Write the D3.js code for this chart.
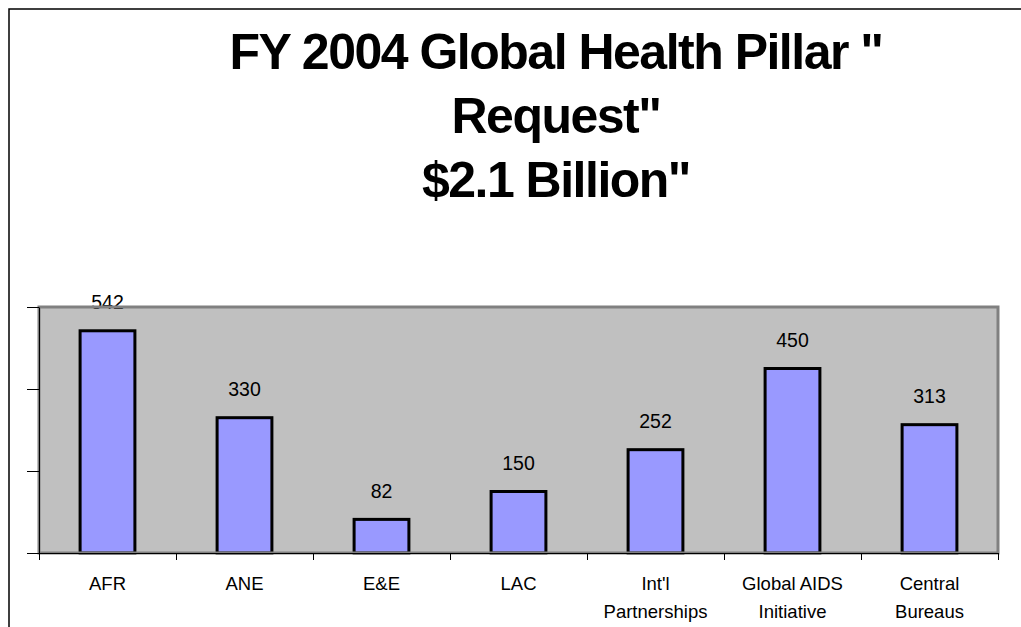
<!DOCTYPE html>
<html>
<head>
<meta charset="utf-8">
<script src="https://cdn.jsdelivr.net/npm/d3@7"></script>
<style>
  html, body { margin: 0; padding: 0; background: #fff; }
  svg { display: block; }
  text { font-family: "Liberation Sans", Arial, sans-serif; }
</style>
</head>
<body>
<svg id="chart" width="1021" height="627"></svg>
<script>
// Global Health pillar request by bureau, $ millions
const categories = ["AFR", "ANE", "E&E", "LAC", "Int'l\nPartnerships", "Global AIDS\nInitiative", "Central\nBureaus"];
const requestValues = [542, 330, 82, 150, 252, 450, 313];
const yTickValues = [0, 200, 400, 600];
const titleLines = ["FY 2004 Global Health Pillar \"", "Request\"", "$2.1 Billion\""];

const W = 1021, H = 627;
const plot = { left: 39, right: 998, top: 307, bottom: 553 };

const svg = d3.select("#chart");
svg.append("rect").attr("width", W).attr("height", H).attr("fill", "#fff");

// chart frame (top and left edges)
svg.append("path")
  .attr("d", `M9,${H} L9,9 L${W},9`)
  .attr("fill", "none").attr("stroke", "#000").attr("stroke-width", 1.5);

// title
svg.append("g").selectAll("text").data(titleLines).join("text")
  .attr("x", 556)
  .attr("y", (d, i) => 69 + i * 64)
  .attr("text-anchor", "middle")
  .attr("font-size", 50)
  .attr("font-weight", "bold")
  .attr("letter-spacing", -1.5)
  .attr("fill", "#000")
  .text(d => d);

const x = d3.scaleBand()
  .domain(categories)
  .range([plot.left, plot.right])
  .paddingInner(0.6)
  .paddingOuter(0.3);

const y = d3.scaleLinear()
  .domain([0, 600])
  .range([plot.bottom, plot.top]);

// plot area background
svg.append("rect")
  .attr("x", plot.left).attr("y", plot.top)
  .attr("width", plot.right - plot.left).attr("height", plot.bottom - plot.top)
  .attr("fill", "#c0c0c0");

// bars
svg.append("g").selectAll("rect").data(categories).join("rect")
  .attr("x", d => x(d))
  .attr("y", (d, i) => y(requestValues[i]))
  .attr("width", x.bandwidth())
  .attr("height", (d, i) => y(0) - y(requestValues[i]))
  .attr("fill", "#9999ff")
  .attr("stroke", "#000")
  .attr("stroke-width", 3);

// value labels
svg.append("g").selectAll("text").data(categories).join("text")
  .attr("x", d => x(d) + x.bandwidth() / 2)
  .attr("y", (d, i) => y(requestValues[i]) - 21.5)
  .attr("text-anchor", "middle")
  .attr("font-size", 19.5)
  .attr("fill", "#000")
  .text((d, i) => requestValues[i]);

// plot area border
svg.append("rect")
  .attr("x", plot.left).attr("y", plot.top)
  .attr("width", plot.right - plot.left).attr("height", plot.bottom - plot.top)
  .attr("fill", "none")
  .attr("stroke", "#808080")
  .attr("stroke-width", 3);

// y axis ticks (no labels)
const yAxis = svg.append("g")
  .attr("transform", `translate(${plot.left},0)`)
  .call(d3.axisLeft(y).tickValues(yTickValues).tickSize(12).tickSizeOuter(0).tickFormat(""));
yAxis.select(".domain").attr("stroke", "#000");
yAxis.selectAll(".tick line").attr("stroke", "#000");

// category axis line
svg.append("line")
  .attr("x1", plot.left).attr("x2", plot.right)
  .attr("y1", plot.bottom + 0.5).attr("y2", plot.bottom + 0.5)
  .attr("stroke", "#000").attr("stroke-width", 1);

// category tick marks between bands
const step = x.step();
const gap = (step - x.bandwidth()) / 2;
const boundaries = categories.map(c => x(c) - gap).concat([x(categories[categories.length - 1]) + x.bandwidth() + gap]);
svg.append("g").selectAll("line").data(boundaries).join("line")
  .attr("x1", d => Math.round(d) + 0.5).attr("x2", d => Math.round(d) + 0.5)
  .attr("y1", plot.bottom).attr("y2", plot.bottom + 7)
  .attr("stroke", "#000").attr("stroke-width", 1);

// category labels
const labels = svg.append("g").selectAll("text").data(categories).join("text")
  .attr("text-anchor", "middle")
  .attr("font-size", 18.5)
  .attr("fill", "#000");
labels.each(function(d) {
  const cx = x(d) + x.bandwidth() / 2;
  d3.select(this).selectAll("tspan").data(d.split("\n")).join("tspan")
    .attr("x", cx)
    .attr("y", (t, i) => 590 + i * 28)
    .text(t => t);
});
</script>
</body>
</html>
